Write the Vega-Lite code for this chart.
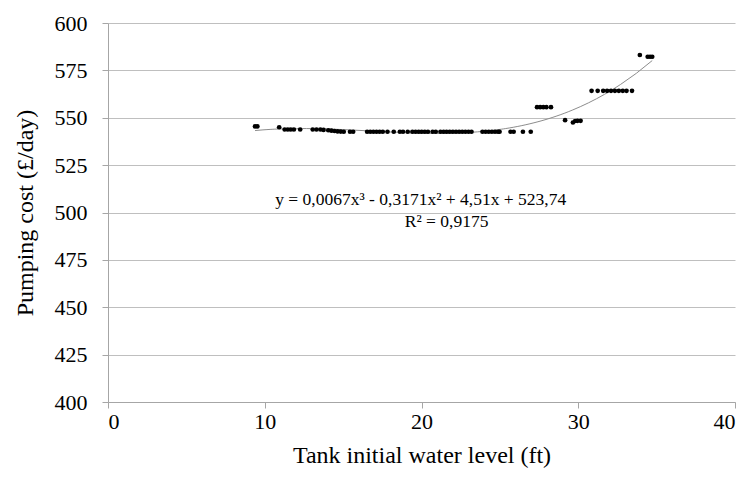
{
  "$schema": "https://vega.github.io/schema/vega-lite/v6.json",
  "width": 627,
  "height": 379,
  "autosize": {"type": "none"},
  "padding": {"left": 108, "top": 23, "right": 14, "bottom": 78},
  "background": "white",
  "config": {
    "view": {"stroke": null},
    "font": "Liberation Serif",
    "axis": {
      "labelFont": "Liberation Serif",
      "titleFont": "Liberation Serif",
      "labelFontSize": 22,
      "titleFontSize": 24,
      "titleFontWeight": "normal",
      "labelColor": "#000000",
      "titleColor": "#000000",
      "domainColor": "#a6a6a6",
      "tickColor": "#a6a6a6",
      "gridColor": "#bfbfbf",
      "tickSize": 6
    }
  },
  "datasets": {
    "obs": [
      {"level": 9.38, "cost": 545.4}, {"level": 9.53, "cost": 545.4},
      {"level": 10.92, "cost": 545.0},
      {"level": 11.27, "cost": 543.8}, {"level": 11.47, "cost": 543.8}, {"level": 11.66, "cost": 543.8}, {"level": 11.86, "cost": 543.8},
      {"level": 12.26, "cost": 543.8},
      {"level": 13.06, "cost": 543.8}, {"level": 13.3, "cost": 543.8}, {"level": 13.55, "cost": 543.8}, {"level": 13.75, "cost": 543.6},
      {"level": 14.05, "cost": 543.4}, {"level": 14.25, "cost": 543.2}, {"level": 14.45, "cost": 543.0}, {"level": 14.65, "cost": 542.8},
      {"level": 14.85, "cost": 542.7}, {"level": 15.04, "cost": 542.6},
      {"level": 15.44, "cost": 542.6}, {"level": 15.64, "cost": 542.6},
      {"level": 16.53, "cost": 542.6}, {"level": 16.73, "cost": 542.6}, {"level": 16.93, "cost": 542.6}, {"level": 17.13, "cost": 542.6},
      {"level": 17.33, "cost": 542.6}, {"level": 17.53, "cost": 542.6},
      {"level": 17.83, "cost": 542.6}, {"level": 18.23, "cost": 542.6},
      {"level": 18.62, "cost": 542.6}, {"level": 18.82, "cost": 542.6},
      {"level": 19.12, "cost": 542.6}, {"level": 19.42, "cost": 542.6},
      {"level": 19.62, "cost": 542.6}, {"level": 19.82, "cost": 542.6}, {"level": 20.01, "cost": 542.6}, {"level": 20.21, "cost": 542.6}, {"level": 20.41, "cost": 542.6},
      {"level": 20.71, "cost": 542.6}, {"level": 20.91, "cost": 542.6}, {"level": 21.21, "cost": 542.6},
      {"level": 21.41, "cost": 542.6}, {"level": 21.6, "cost": 542.6}, {"level": 21.8, "cost": 542.6}, {"level": 22.0, "cost": 542.6},
      {"level": 22.2, "cost": 542.6}, {"level": 22.4, "cost": 542.6}, {"level": 22.6, "cost": 542.6},
      {"level": 22.8, "cost": 542.6}, {"level": 23.0, "cost": 542.6}, {"level": 23.19, "cost": 542.6},
      {"level": 23.89, "cost": 542.6}, {"level": 24.09, "cost": 542.6}, {"level": 24.29, "cost": 542.6}, {"level": 24.49, "cost": 542.6},
      {"level": 24.69, "cost": 542.6}, {"level": 24.88, "cost": 542.6}, {"level": 24.98, "cost": 542.6},
      {"level": 25.68, "cost": 542.6}, {"level": 25.88, "cost": 542.6},
      {"level": 26.47, "cost": 542.6}, {"level": 26.97, "cost": 542.6},
      {"level": 27.37, "cost": 555.6}, {"level": 27.57, "cost": 555.6}, {"level": 27.77, "cost": 555.6}, {"level": 27.97, "cost": 555.6},
      {"level": 28.26, "cost": 555.6},
      {"level": 29.16, "cost": 548.7},
      {"level": 29.66, "cost": 547.5}, {"level": 29.8, "cost": 548.3}, {"level": 29.95, "cost": 548.4}, {"level": 30.15, "cost": 548.4},
      {"level": 30.85, "cost": 564.2}, {"level": 31.24, "cost": 564.2},
      {"level": 31.59, "cost": 564.2}, {"level": 31.84, "cost": 564.2}, {"level": 32.09, "cost": 564.2}, {"level": 32.34, "cost": 564.2},
      {"level": 32.59, "cost": 564.2}, {"level": 32.84, "cost": 564.2}, {"level": 33.08, "cost": 564.2}, {"level": 33.43, "cost": 564.2},
      {"level": 33.93, "cost": 583.1},
      {"level": 34.43, "cost": 582.2}, {"level": 34.58, "cost": 582.2}, {"level": 34.72, "cost": 582.2}
    ],
    "notes": [
      {"text": "y = 0,0067x³ - 0,3171x² + 4,51x + 523,74", "level": 19.95, "cost": 506.7},
      {"text": "R² = 0,9175", "level": 21.6, "cost": 495.1}
    ]
  },
  "layer": [
    {
      "data": {"name": "obs"},
      "transform": [
        {"regression": "cost", "on": "level", "method": "poly", "order": 3}
      ],
      "mark": {"type": "line", "color": "#8c8c8c", "strokeWidth": 1},
      "encoding": {
        "x": {"field": "level", "type": "quantitative",
              "scale": {"domain": [0, 40], "nice": false},
              "axis": {"title": "Tank initial water level (ft)", "values": [0, 10, 20, 30, 40], "grid": false, "labelPadding": 3, "titlePadding": 11}},
        "y": {"field": "cost", "type": "quantitative",
              "scale": {"domain": [400, 600], "nice": false, "zero": false},
              "axis": {"title": "Pumping cost (£/day)", "values": [400, 425, 450, 475, 500, 525, 550, 575, 600], "grid": true, "labelPadding": 15, "titlePadding": 17}}
      }
    },
    {
      "data": {"name": "obs"},
      "mark": {"type": "circle", "color": "#000000", "opacity": 1, "size": 22},
      "encoding": {
        "x": {"field": "level", "type": "quantitative"},
        "y": {"field": "cost", "type": "quantitative"}
      }
    },
    {
      "data": {"name": "notes"},
      "mark": {"type": "text", "font": "Liberation Serif", "fontSize": 17.5, "color": "#000000", "align": "center", "baseline": "middle"},
      "encoding": {
        "x": {"field": "level", "type": "quantitative"},
        "y": {"field": "cost", "type": "quantitative"},
        "text": {"field": "text"}
      }
    }
  ]
}
